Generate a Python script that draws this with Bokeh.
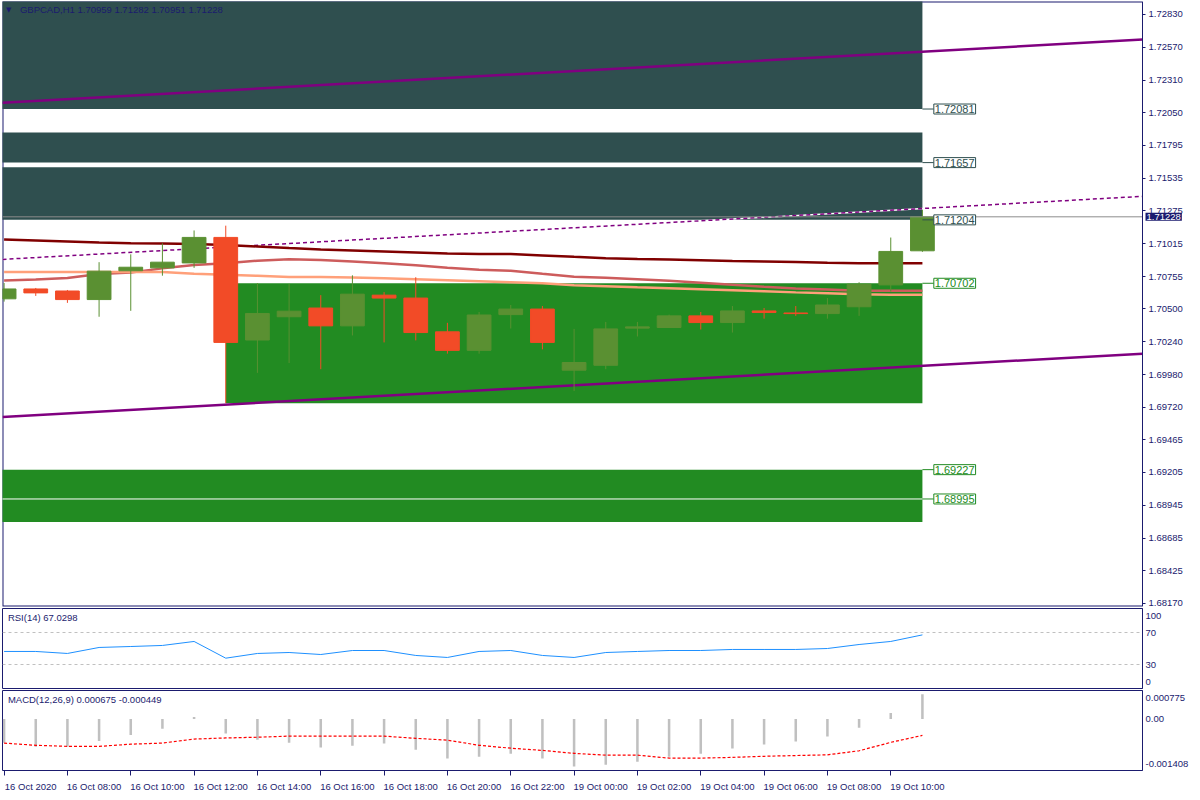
from bokeh.plotting import figure
from bokeh.layouts import column
from bokeh.models import (Range1d, LinearAxis, FixedTicker, PrintfTickFormatter,
                          Label, Span, ColumnDataSource)
from bokeh.embed import file_html
from bokeh.resources import INLINE

# ---------------- data ----------------
symbol = "GBPCAD,H1"
opens = [1.70579, 1.70657, 1.70641, 1.70573, 1.70801, 1.70824, 1.70863, 1.71065, 1.70253, 1.70437,
         1.70506, 1.70365, 1.70608, 1.70585, 1.70318, 1.70171, 1.70454, 1.70498, 1.70014, 1.70053,
         1.70347, 1.70352, 1.70444, 1.70391, 1.70483, 1.70467, 1.70462, 1.70516, 1.70689, 1.70959]
highs = [1.70704, 1.70665, 1.70649, 1.70869, 1.70931, 1.71018, 1.71120, 1.71158, 1.70704, 1.70696,
         1.70608, 1.70765, 1.70632, 1.70750, 1.70389, 1.70475, 1.70530, 1.70522, 1.70341, 1.70396,
         1.70396, 1.70454, 1.70475, 1.70522, 1.70506, 1.70522, 1.70585, 1.70710, 1.71064, 1.71282]
lows = [1.70557, 1.70602, 1.70547, 1.70437, 1.70484, 1.70762, 1.70824, 1.69753, 1.69993, 1.70071,
        1.70022, 1.70289, 1.70234, 1.70250, 1.70145, 1.70145, 1.70344, 1.70179, 1.69849, 1.70022,
        1.70281, 1.70349, 1.70336, 1.70312, 1.70422, 1.70444, 1.70422, 1.70444, 1.70637, 1.70951]
closes = [1.70657, 1.70626, 1.70573, 1.70798, 1.70829, 1.70869, 1.71065, 1.70234, 1.70463, 1.70481,
          1.70365, 1.70616, 1.70585, 1.70312, 1.70171, 1.70451, 1.70498, 1.70234, 1.70075, 1.70341,
          1.70357, 1.70444, 1.70391, 1.70483, 1.70471, 1.70462, 1.70530, 1.70695, 1.70954, 1.71228]

ma_maroon = [1.71048, 1.71040, 1.71032, 1.71024, 1.71019, 1.71017, 1.71013, 1.71005, 1.70993, 1.70981,
             1.70970, 1.70962, 1.70954, 1.70946, 1.70938, 1.70934, 1.70933, 1.70922, 1.70911, 1.70901,
             1.70895, 1.70891, 1.70885, 1.70879, 1.70875, 1.70871, 1.70865, 1.70860, 1.70860, 1.70860]
ma_indianred = [1.70724, 1.70732, 1.70744, 1.70776, 1.70787, 1.70820, 1.70846, 1.70860, 1.70881, 1.70893,
                1.70887, 1.70875, 1.70860, 1.70844, 1.70824, 1.70809, 1.70801, 1.70777, 1.70754, 1.70746,
                1.70734, 1.70722, 1.70707, 1.70691, 1.70675, 1.70660, 1.70652, 1.70642, 1.70642, 1.70642]
ma_salmon = [1.70791, 1.70791, 1.70791, 1.70791, 1.70791, 1.70791, 1.70777, 1.70769, 1.70761, 1.70752,
             1.70752, 1.70748, 1.70742, 1.70734, 1.70726, 1.70718, 1.70710, 1.70702, 1.70687, 1.70679,
             1.70670, 1.70662, 1.70654, 1.70646, 1.70638, 1.70630, 1.70623, 1.70615, 1.70611, 1.70611]

rsi_values = [46.3, 46.3, 43.8, 51.3, 52.5, 53.8, 58.8, 37.9, 43.8, 45.0,
              42.5, 47.5, 47.5, 41.3, 38.8, 46.3, 47.5, 41.3, 38.8, 45.0,
              46.3, 47.5, 47.5, 48.8, 48.8, 48.8, 50.0, 55.0, 58.8, 67.0298]
rsi_levels = [70, 30]
rsi_axis_text = ["100", "70", "30", "0"]

macd_main = [-0.00065, -0.00076, -0.00076, -0.00060, -0.00044, -0.00027, 0.00005, -0.00040, -0.00057, -0.00065,
             -0.00078, -0.00073, -0.00067, -0.00084, -0.00108, -0.00103, -0.00095, -0.00108, -0.00130, -0.00125,
             -0.00117, -0.00103, -0.00095, -0.00081, -0.00070, -0.00062, -0.00048, -0.00024, 0.00016, 0.000675]
macd_signal = [-0.00066, -0.00072, -0.00075, -0.00075, -0.00069, -0.00066, -0.00055, -0.00052, -0.00050, -0.00047,
               -0.00047, -0.00047, -0.00047, -0.00053, -0.00058, -0.00072, -0.00080, -0.00086, -0.00094, -0.00099,
               -0.00099, -0.00107, -0.00107, -0.00105, -0.00102, -0.00100, -0.00098, -0.00087, -0.00064, -0.000449]
macd_window = [-0.001408, 0.000775]

x_tick_labels = ["16 Oct 2020", "16 Oct 08:00", "16 Oct 10:00", "16 Oct 12:00", "16 Oct 14:00",
                 "16 Oct 16:00", "16 Oct 18:00", "16 Oct 20:00", "16 Oct 22:00", "19 Oct 00:00",
                 "19 Oct 02:00", "19 Oct 04:00", "19 Oct 06:00", "19 Oct 08:00", "19 Oct 10:00"]
price_ticks = [1.72830, 1.72570, 1.72310, 1.72050, 1.71795, 1.71535, 1.71275, 1.71015, 1.70755, 1.70500,
               1.70240, 1.69980, 1.69720, 1.69465, 1.69205, 1.68945, 1.68685, 1.68425, 1.68170]
price_window = [1.68144, 1.72932]

# supply (dark) and demand (green) zones: (top, bottom, start bar)
supply_zones = [(1.73000, 1.72081, -1), (1.71896, 1.71657, -1), (1.71621, 1.71204, -1)]
demand_zones = [(1.70702, 1.69753, 7), (1.69227, 1.68813, -1)]
demand_divider = 1.68995
zone_end_bar = 29
supply_levels = [1.72081, 1.71657, 1.71204]
demand_levels = [1.70702, 1.69227, 1.68995]

channel_x = [-0.05, 35.95]
channel_upper = [1.72131, 1.72631]
channel_mid = [1.70891, 1.71390]
channel_lower = [1.69643, 1.70145]

# ---------------- style ----------------
NAVY = "#1b1b6e"
UP = "#5a9032"
DN = "#f24b27"
SLATE = "#2f4f4f"
FOREST = "#228b22"
PURPLE = "#800080"
FONT = "Liberation Sans"
FS = "9.5px"
FW = 1140          # width of indicator frames (chart area)
MAIN_FW = 1188     # main frame also covers the price-scale strip
px = (channel_x[1] - channel_x[0]) / FW   # bars per pixel

n = len(opens)
idx = list(range(n))
x_range = Range1d(channel_x[0], channel_x[1])
main_x_range = Range1d(channel_x[0], channel_x[0] + MAIN_FW * px)


def make_fig(frame_w, frame_h, xr, y_range, top, bottom):
    p = figure(frame_width=frame_w, frame_height=frame_h, x_range=xr, y_range=y_range,
               output_backend="svg", toolbar_location=None,
               x_axis_location=None, y_axis_location=None,
               min_border_left=2, min_border_right=0, min_border_top=top, min_border_bottom=bottom)
    p.xgrid.visible = False
    p.ygrid.visible = False
    p.outline_line_color = NAVY
    p.outline_line_width = 1
    p.background_fill_color = "white"
    p.border_fill_color = "white"
    return p


def style_axis(ax, tick_out=3):
    ax.axis_line_color = NAVY
    ax.major_tick_line_color = NAVY
    ax.major_tick_out = tick_out
    ax.major_tick_in = 0
    ax.minor_tick_line_color = None
    ax.major_label_text_color = NAVY
    ax.major_label_text_font = FONT
    ax.major_label_text_font_size = FS
    ax.major_label_standoff = 3


# ---------------- main price panel ----------------
p1 = make_fig(MAIN_FW, 605, main_x_range, Range1d(price_window[0], price_window[1]), 1, 1)
p1.outline_line_color = None
# chart frame (top, left, bottom) up to the price scale
p1.line(x=[channel_x[1], channel_x[0], channel_x[0], channel_x[1]],
        y=[price_window[1], price_window[1], price_window[0], price_window[0]],
        line_color=NAVY, line_width=2)

for top, bot, start in supply_zones:
    p1.quad(left=[start], right=[zone_end_bar], top=[top], bottom=[bot], fill_color=SLATE, line_color=None)
for top, bot, start in demand_zones:
    p1.quad(left=[start], right=[zone_end_bar], top=[top], bottom=[bot], fill_color=FOREST, line_color=None)
p1.line(x=[-1, zone_end_bar], y=[demand_divider, demand_divider], line_color="white", line_width=1)

# channel
p1.line(x=channel_x, y=channel_upper, line_color=PURPLE, line_width=2.5)
p1.line(x=channel_x, y=channel_mid, line_color="white", line_width=1.5)
p1.line(x=channel_x, y=channel_mid, line_color=PURPLE, line_width=1.5, line_dash="4 3")
p1.line(x=channel_x, y=channel_lower, line_color=PURPLE, line_width=2.5)

# moving averages
p1.line(x=idx, y=ma_maroon, line_color="#800000", line_width=2.5)
p1.line(x=idx, y=ma_indianred, line_color="#cd5c5c", line_width=2.5)
p1.line(x=idx, y=ma_salmon, line_color="#ffa07a", line_width=2.5)

# candles
colors = [UP if c >= o else DN for o, c in zip(opens, closes)]
src = ColumnDataSource(dict(x=idx, h=highs, l=lows,
                            top=[max(o, c) for o, c in zip(opens, closes)],
                            bottom=[min(o, c) for o, c in zip(opens, closes)],
                            color=colors))
p1.segment(x0="x", y0="h", x1="x", y1="l", line_color="color", line_width=1, source=src)
p1.vbar(x="x", width=0.75, top="top", bottom="bottom", fill_color="color",
        line_color="color", line_width=1, source=src)

# current price line (to the scale)
p1.line(x=channel_x, y=[closes[-1], closes[-1]], line_color="#8c8c8c", line_width=1)

# level labels
label_x = zone_end_bar + 0.36
for levels, col in ((supply_levels, SLATE), (demand_levels, FOREST)):
    for lv in levels:
        p1.line(x=[zone_end_bar, label_x], y=[lv, lv], line_color=col, line_width=1)
        p1.add_layout(Label(x=label_x, y=lv, text=f"{lv:.5f}", text_color=col, text_font=FONT,
                            text_font_size="11px", text_baseline="middle", text_align="left",
                            border_line_color=col, background_fill_color="white", padding=1))

# header
hdr_y = price_window[1] - (price_window[1] - price_window[0]) * 0.0135
p1.add_layout(Label(x=0.06, y=hdr_y, text="\u25bc", text_color=NAVY, text_font="DejaVu Sans",
                    text_font_size="7px", text_baseline="middle"))
p1.add_layout(Label(x=0.5, y=hdr_y,
                    text=f"{symbol}  {opens[-1]:.5f} {highs[-1]:.5f} {lows[-1]:.5f} {closes[-1]:.5f}",
                    text_color=NAVY, text_font=FONT, text_font_size=FS, text_baseline="middle"))

# price scale, placed at the right edge of the chart area
ax1 = LinearAxis(ticker=FixedTicker(ticks=price_ticks), formatter=PrintfTickFormatter(format="%.5f"),
                 fixed_location=channel_x[1])
style_axis(ax1)
p1.add_layout(ax1, "right")

# current price tag on the scale
p1.add_layout(Label(x=channel_x[1] + 3 * px, y=closes[-1], text=f"{closes[-1]:.5f}", text_color="white",
                    text_font=FONT, text_font_size=FS, text_baseline="middle", text_align="left",
                    background_fill_color=NAVY, padding=1))

# ---------------- RSI panel ----------------
p2 = make_fig(FW, 80, x_range, Range1d(0, 100), 1, 1)
for lv in rsi_levels:
    p2.add_layout(Span(location=lv, dimension="width", line_color="#c0c0c0", line_width=1, line_dash="3 3"))
p2.line(x=idx, y=rsi_values, line_color="#1e90ff", line_width=1)
p2.add_layout(Label(x=0.12, y=88.5, text=f"RSI(14) {rsi_values[-1]:.4f}", text_color=NAVY,
                    text_font=FONT, text_font_size=FS, text_baseline="middle"))
rsi_tick_pos = [90.4, 70.0, 30.0, 8.0]
ax2 = LinearAxis(ticker=FixedTicker(ticks=rsi_tick_pos),
                 major_label_overrides={t: s for t, s in zip(rsi_tick_pos, rsi_axis_text)})
style_axis(ax2, tick_out=0)
p2.add_layout(ax2, "right")

# ---------------- MACD panel ----------------
p3 = make_fig(FW, 80, x_range, Range1d(macd_window[0], macd_window[1]), 1, 0)
p3.vbar(x=idx, top=macd_main, bottom=0, width=0.08, fill_color="#c0c0c0", line_color=None)
p3.line(x=idx, y=macd_signal, line_color="#ff0000", line_width=1.2, line_dash="3 2")
span_m = macd_window[1] - macd_window[0]
p3.add_layout(Label(x=0.12, y=macd_window[1] - span_m * 0.112,
                    text=f"MACD(12,26,9) {macd_main[-1]:.6f} {macd_signal[-1]:.6f}", text_color=NAVY,
                    text_font=FONT, text_font_size=FS, text_baseline="middle"))
macd_axis_text = [f"{macd_window[1]:.6f}", "0.00", f"{macd_window[0]:.6f}"]
macd_tick_pos = [macd_window[1] - span_m * 0.096, 0.0, macd_window[0] + span_m * 0.084]
ax3 = LinearAxis(ticker=FixedTicker(ticks=macd_tick_pos),
                 major_label_overrides={t: s for t, s in zip(macd_tick_pos, macd_axis_text)})
style_axis(ax3, tick_out=0)
p3.add_layout(ax3, "right")

# time axis: tick marks at the bars (minor ticks), labels left-aligned from each tick
tick_pos = [2 * i for i in range(len(x_tick_labels))]
label_off = 0.84
p3.extra_x_ranges = {"lbl": Range1d(channel_x[0] - label_off, channel_x[1] - label_off)}
time_ax = LinearAxis(x_range_name="lbl",
                     ticker=FixedTicker(ticks=tick_pos, minor_ticks=[t - label_off for t in tick_pos]),
                     major_label_overrides={t: s for t, s in zip(tick_pos, x_tick_labels)})
style_axis(time_ax, tick_out=0)
time_ax.axis_line_color = None
time_ax.major_tick_line_color = None
time_ax.minor_tick_line_color = NAVY
time_ax.minor_tick_out = 5
time_ax.minor_tick_in = 0
time_ax.major_label_standoff = 5
p3.add_layout(time_ax, "below")

layout = column(p1, p2, p3, spacing=0)
open("out.html", "w").write(file_html(layout, INLINE))
